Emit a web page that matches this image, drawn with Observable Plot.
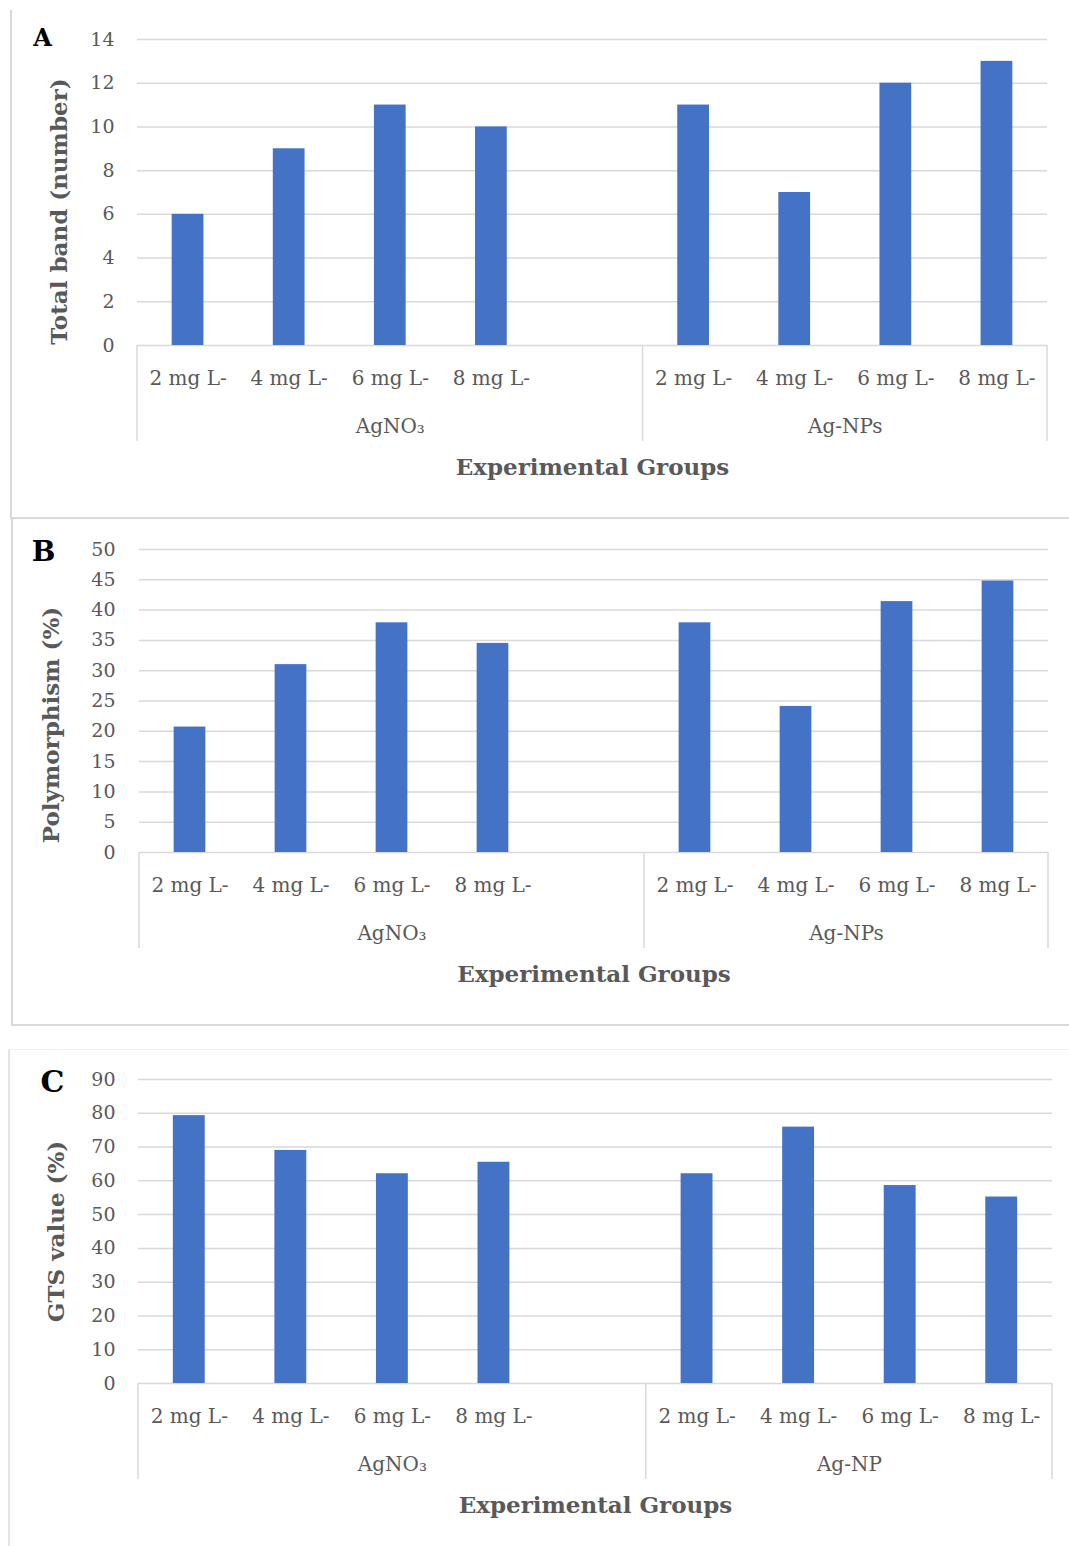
<!DOCTYPE html>
<html><head><meta charset="utf-8">
<script src="https://cdn.jsdelivr.net/npm/d3@7"></script>
<script src="https://cdn.jsdelivr.net/npm/@observablehq/plot@0.6"></script>
<style>
body{margin:0;background:#fff;}
#page{position:relative;width:1069px;height:1546px;overflow:hidden;background:#fff;}
.panel{position:absolute;left:0;width:1069px;}
.panel svg{display:block;}
.frame{position:absolute;background:#d9d9d9;}
</style></head><body><div id="page"></div>
<script>
// ---- data ----
const doses = ["2 mg L-", "4 mg L-", "6 mg L-", "8 mg L-"];
const groupsAB = ["AgNO₃", "Ag-NPs"];
const groupsC = ["AgNO₃", "Ag-NP"];
const groupSlots = [5, 4]; // AgNO3 group has an empty fifth slot
const totalBand = [6, 9, 11, 10, 11, 7, 12, 13];
const polymorphism = [20.7, 31.0, 37.9, 34.5, 37.9, 24.1, 41.4, 44.8];
const gtsValue = [79.3, 69.0, 62.1, 65.5, 62.1, 75.9, 58.6, 55.2];
const ticksA = [0, 2, 4, 6, 8, 10, 12, 14];
const ticksB = [0, 5, 10, 15, 20, 25, 30, 35, 40, 45, 50];
const ticksC = [0, 10, 20, 30, 40, 50, 60, 70, 80, 90];
const xTitle = "Experimental Groups";

const BLUE = "#4472C4", GRID = "#d9d9d9", TXT = "#595959";
const FONT = "DejaVu Serif";

const page = document.getElementById("page");

function makePanel(o) {
  const starts = [];
  let acc = 0;
  groupSlots.forEach(n => { starts.push(acc); acc += n; });
  const nSlots = acc;
  const rows = o.values.map((v, k) => {
    const gi = Math.floor(k / doses.length), di = k % doses.length;
    return {group: o.groups[gi], dose: doses[di], slot: starts[gi] + di, value: v};
  });
  const slotLabel = new Map(rows.map(d => [d.slot, d.dose]));
  const bounds = [-0.5, ...groupSlots.map((n, i) => starts[i] + n - 0.5)];
  const groupRows = o.groups.map((g, i) => ({name: g, center: (bounds[i] + bounds[i + 1]) / 2}));
  const half = 0.157;

  const separators = (index, scales) => {
    const g = d3.create("svg:g");
    const y0 = scales.y(0);
    bounds.forEach(b => {
      g.append("line")
        .attr("x1", scales.x(b)).attr("x2", scales.x(b))
        .attr("y1", y0).attr("y2", y0 + 96)
        .attr("stroke", GRID).attr("stroke-width", 1.5);
    });
    return g.node();
  };

  const plot = Plot.plot({
    width: 1069,
    height: o.height,
    marginTop: o.mt, marginBottom: o.mb, marginLeft: o.ml, marginRight: o.mr,
    style: {fontFamily: FONT, fontSize: "20px", color: TXT, background: "white", overflow: "visible"},
    x: {type: "linear", domain: [-0.5, nSlots - 0.5], axis: null, label: null},
    y: {domain: [o.yTicks[0], o.yTicks[o.yTicks.length - 1]], axis: null, label: null},
    marks: [
      Plot.ruleY(o.yTicks, {stroke: GRID, strokeWidth: 1.5}),
      Plot.rectY(rows, {x1: d => d.slot - half, x2: d => d.slot + half, y: "value", fill: BLUE}),
      Plot.axisY({ticks: o.yTicks, tickSize: 0, tickPadding: o.tp, fontSize: 19, fill: TXT, label: null}),
      Plot.axisX({ticks: rows.map(d => d.slot), tickFormat: s => slotLabel.get(s), tickSize: 0, tickPadding: 25, fontSize: 20, fill: TXT, label: null}),
      Plot.text(groupRows, {x: "center", y: () => 0, text: "name", dy: 81, fontSize: 20, fill: TXT, lineAnchor: "middle"}),
      separators,
      Plot.text([xTitle], {frameAnchor: "bottom", dy: 122, fontSize: 23, fontWeight: "bold", fill: TXT, lineAnchor: "middle"}),
      Plot.text([o.yTitle], {frameAnchor: "left", rotate: -90, dx: o.titleX - o.ml, dy: o.titleDy, fontSize: 23, fontWeight: "bold", fill: TXT, textAnchor: "middle", lineAnchor: "middle"}),
      Plot.text([o.letter], {frameAnchor: "top-left", dx: o.letterX - o.ml, dy: o.letterDy, fontSize: o.letterSize, fontWeight: "bold", fill: "black", textAnchor: "middle", lineAnchor: "middle"})
    ]
  });
  const div = document.createElement("div");
  div.className = "panel";
  div.style.top = o.top + "px";
  div.appendChild(plot);
  page.appendChild(div);
}

function frame(l, t, w, h, c) {
  const f = document.createElement("div");
  f.className = "frame";
  Object.assign(f.style, {left: l + "px", top: t + "px", width: w + "px", height: h + "px"});
  if (c) f.style.background = c;
  page.appendChild(f);
}

makePanel({letter: "A", yTitle: "Total band (number)", values: totalBand, groups: groupsAB, yTicks: ticksA,
  top: 0, height: 518, mt: 39, mb: 173, ml: 137, mr: 22, tp: 23, titleX: 59, titleDy: 19, letterX: 42, letterDy: -1, letterSize: 24});
makePanel({letter: "B", yTitle: "Polymorphism (%)", values: polymorphism, groups: groupsAB, yTicks: ticksB,
  top: 520, height: 505, mt: 29, mb: 173, ml: 139, mr: 21, tp: 24, titleX: 51, titleDy: 24, letterX: 43, letterDy: 3, letterSize: 28});
makePanel({letter: "C", yTitle: "GTS value (%)", values: gtsValue, groups: groupsC, yTicks: ticksC,
  top: 1049, height: 497, mt: 30, mb: 163, ml: 138, mr: 17, tp: 23, titleX: 56, titleDy: 0, letterX: 52, letterDy: 3, letterSize: 30});

frame(10, 10, 2, 509);
frame(10, 517, 1059, 2);
frame(11, 519, 2, 507);
frame(11, 1024, 1058, 2);
frame(8, 1049, 2, 497, "#e4e4e4");
frame(8, 1049, 1061, 1, "#f0f0f0");
</script></body></html>
